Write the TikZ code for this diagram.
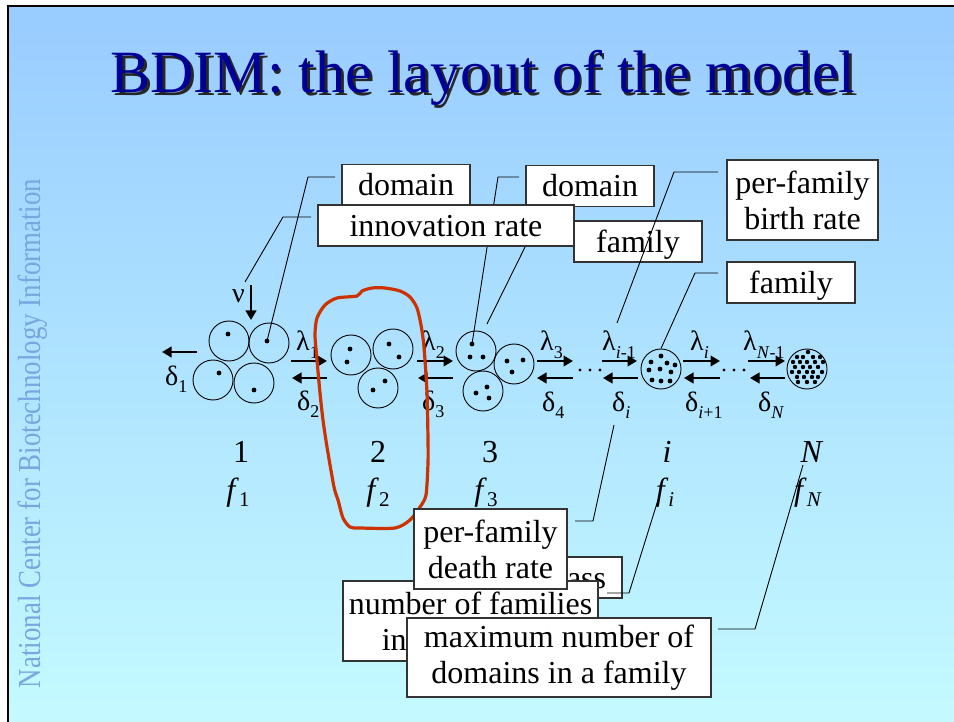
\documentclass[tikz,border=0pt]{standalone}
\usepackage{fontspec}
\setmainfont{Liberation Serif}
\newfontfamily\ncbifont[FakeStretch=0.84]{Liberation Serif}
\usetikzlibrary{arrows.meta}
\definecolor{slidetop}{RGB}{153,204,255}
\definecolor{slidebot}{RGB}{196,250,255}
\definecolor{titleblue}{RGB}{0,0,150}
\definecolor{loopred}{RGB}{204,51,0}
\definecolor{ncbiblue}{RGB}{120,166,222}
\newcommand{\fsz}[2]{\fontsize{#1}{#2}\selectfont}
\newcommand{\sbx}[1]{\raisebox{-0.27em}{\fsz{18}{18}#1}}
\newcommand{\fsbx}[1]{\raisebox{-0.2em}{\fsz{21}{21}#1}}
\tikzset{
  callout/.style={draw=black!80, line width=1.1pt, fill=white, align=center, inner sep=0pt, font=\fsz{32}{36}},
  one/.style={minimum height=41pt, text height=22pt, text depth=0pt},
  lead/.style={draw=black, line width=0.9pt},
  arr/.style={line width=2.8pt, -{Triangle[length=9.5pt,width=10.5pt]}},
  dom/.style={circle, draw=black, line width=0.9pt, minimum size=40pt, inner sep=0pt},
  dotm/.style={circle, fill=black, minimum size=4.8pt, inner sep=0pt},
  greek/.style={font=\fsz{28}{28}, anchor=base west, inner sep=0pt},
  idx/.style={font=\fsz{32}{32}, anchor=base, inner sep=0pt},
}
\newcommand{\arrw}[3]{\coordinate (#1a) at (#2); \coordinate (#1b) at (#3); \draw[arr] (#1a) -- (#1b);}
\begin{document}
\begin{tikzpicture}[x=1pt,y=-1pt]
\useasboundingbox (0,0) rectangle (954,722);
\fill[white] (0,0) rectangle (954,722);
\shade[top color=slidetop, bottom color=slidebot] (8,6) rectangle (954,722);
\draw[line width=2.5pt, black] (8,722) -- (8,6.2) -- (954,6.2);

% title
\node[anchor=base, font=\fsz{60}{60}, text=black!85, inner sep=0pt] (tshadow) at (485.5,95.5) {BDIM: the layout of the model};
\node[anchor=base, font=\fsz{60}{60}, text=titleblue, inner sep=0pt] (title) at (483,93) {BDIM: the layout of the model};

% side text
\node[rotate=90, anchor=base, text=ncbiblue, font=\ncbifont\fsz{32}{32}, inner sep=0pt] (ncbi) at (41,433.5) {National Center for Biotechnology Information};

% group 1
\node[dom] (cA) at (229,341) {};
\node[dom] (cB) at (269,343) {};
\node[dom] (cC) at (213,380) {};
\node[dom] (cD) at (254,383) {};
\node[dotm] (dB) at (267,341) {};
\foreach \x/\y in {228/334, 219/373, 254/390} \fill (\x,\y) circle (2.4pt);
% group 2
\node[dom] (cE) at (351,355) {};
\node[dom] (cF) at (393,349) {};
\node[dom] (cG) at (378,388) {};
\foreach \x/\y in {350/349, 347/362, 389/344, 399/357, 373/390, 385/381} \fill (\x,\y) circle (2.4pt);
% group 3
\node[dom] (cH) at (476,351) {};
\node[dom] (cI) at (514,364) {};
\node[dom] (cJ) at (483,391) {};
\node[dotm] (dH) at (472,344) {};
\foreach \x/\y in {470/357, 483/357, 507/361, 523/360, 512/372, 476/393, 487/387, 489/398} \fill (\x,\y) circle (2.4pt);
% group i
\node[dom] (cK) at (661,369) {};
\foreach \x/\y in {661/356, 651/362, 667/363, 675/365, 649/370, 660/369, 671/372, 652/380, 661/381, 670/381} \fill (\x,\y) circle (2.4pt);
% group N
\node[dom] (cL) at (807,369) {};
\foreach \x/\y in {808/352, 797/357, 803/357, 813/357, 820/357, 793/362, 800/362, 807/362, 815/362, 823/362, 795/367, 803/367, 810/367, 818/367, 792/372, 799/372, 807/372, 813/372, 822/372, 797/377, 804/377, 812/377, 818/377, 798/382, 807/382, 815/382} \fill (\x,\y) circle (2.2pt);

% arrows
\arrw{nu}{251,285}{251,320}
\arrw{dA}{197,352}{162,352}
\arrw{lA}{291,361}{327,361}
\arrw{dB}{327,378}{292,378}
\arrw{lB}{417,361}{453,361}
\arrw{dC}{453,378}{418,378}
\arrw{lC}{537,361}{573,361}
\arrw{dD}{573,378}{537,378}
\arrw{lD}{602,361}{637,361}
\arrw{dE}{638,378}{603,378}
\arrw{lE}{683,361}{720,361}
\arrw{dF}{720,378}{684,378}
\arrw{lF}{748,361}{785,361}
\arrw{dG}{785,378}{750,378}
\foreach \x in {580,590,600,724,734,744} \fill (\x,370) circle (1.6pt);

% greek labels
\node[greek] (nuL) at (232,303) {ν};
\node[greek] (d1L) at (165,385) {δ\sbx{1}};
\node[greek] (l1L) at (296,351) {λ\sbx{1}};
\node[greek] (d2L) at (297,410) {δ\sbx{2}};
\node[greek] (l2L) at (422,351) {λ\sbx{2}};
\node[greek] (d3L) at (422,410) {δ\sbx{3}};
\node[greek] (l3L) at (540,351) {λ\sbx{3}};
\node[greek] (d4L) at (542,411) {δ\sbx{4}};
\node[greek] (liL) at (602,351) {λ\sbx{\textit{i}-1}};
\node[greek] (diL) at (612,411) {δ\sbx{\textit{i}}};
\node[greek] (lI2L) at (690,351) {λ\sbx{\textit{i}}};
\node[greek] (dI2L) at (685,411) {δ\sbx{\textit{i}+1}};
\node[greek] (lNL) at (743,351) {λ\sbx{\textit{N}-1}};
\node[greek] (dNL) at (758,411) {δ\sbx{\textit{N}}};

% index rows
\node[idx] (n1) at (241,462) {1};
\node[idx] (n2) at (378,462) {2};
\node[idx] (n3) at (490,462) {3};
\node[idx] (ni) at (667,462) {\textit{i}};
\node[idx] (nN) at (812,462) {\textit{N}};
\node[idx] (f1) at (238,500) {\textit{f}\fsbx{1}};
\node[idx] (f2) at (378,500) {\textit{f}\fsbx{2}};
\node[idx] (f3) at (486,500) {\textit{f}\fsbx{3}};
\node[idx] (fi) at (665,500) {\textit{f}\fsbx{\textit{i}}};
\node[idx] (fN) at (808,500) {\textit{f}\fsbx{\textit{N}}};

% upper callouts
\coordinate (l1s) at (335,177); \coordinate (l1k) at (308,177);
\draw[lead] (l1s) -- (l1k) -- (dB.center);
\coordinate (l2s) at (311,217); \coordinate (l2k) at (283,217); \coordinate (l2e) at (245,282);
\draw[lead] (l2s) -- (l2k) -- (l2e);
\coordinate (l3s) at (519,177); \coordinate (l3k) at (498,177);
\draw[lead] (l3s) -- (l3k) -- (dH.center);
\coordinate (l4s) at (567,233); \coordinate (l4k) at (532,233); \coordinate (l4e) at (487,324);
\draw[lead] (l4s) -- (l4k) -- (l4e);
\node[callout, one, minimum width=128pt] (dom1) at (406,185) {domain};
\node[callout, one, minimum width=128pt] (dom2) at (590,186) {domain};
\node[callout, one, minimum width=128pt] (fam1) at (638,241.5) {family};
\node[callout, one, minimum width=256pt] (innov) at (446,225.5) {innovation rate};
\coordinate (l5s) at (718,172); \coordinate (l5k) at (674,172); \coordinate (l5e) at (617,323);
\draw[lead] (l5s) -- (l5k) -- (l5e);
\node[callout, minimum width=151pt, minimum height=80pt] (birth) at (802.5,200) {per-family\\birth rate};
\coordinate (l6s) at (718,273); \coordinate (l6k) at (695,273);
\draw[lead] (l6s) -- (l6k) -- (cK.north);
\node[callout, one, minimum width=128pt] (fam2) at (791,282.5) {family};

% red loop
\draw[loopred, line width=3.2pt, line join=round] plot[smooth cycle, tension=0.45] coordinates {
(317,318) (325,305) (337,298) (357,296) (362,291) (372,288) (385,288) (400,291) (410,297) (417,308) (421,325) (424,347) (427,393) (428,440) (428,463) (426,495) (420,507) (410,520) (395,528) (360,528) (350,527) (343,518) (338,500) (334,487) (327,447) (323,420) (320,393) (317,360) (315,335)};

% lower callouts
\node[callout, one, minimum width=94pt] (cls) at (575,577.5) {class};
\coordinate (l7s) at (607,593); \coordinate (l7k) at (629,593); \coordinate (l7e) at (658,500);
\draw[lead] (l7s) -- (l7k) -- (l7e);
\node[callout, minimum width=255pt, minimum height=80pt, align=left] (numfam) at (470.5,621) {number of families\\\hspace*{33pt}in};
\node[callout, minimum width=153pt, minimum height=80pt] (death) at (490.5,549) {per-family\\death rate};
\coordinate (l8s) at (575,521); \coordinate (l8k) at (593,521); \coordinate (l8e) at (614,425);
\draw[lead] (l8s) -- (l8k) -- (l8e);
\node[callout, minimum width=304pt, minimum height=79pt] (maxnum) at (559,657.5) {maximum number of\\domains in a family};
\coordinate (l9s) at (718,629); \coordinate (l9k) at (755,629); \coordinate (l9e) at (803,465);
\draw[lead] (l9s) -- (l9k) -- (l9e);
\end{tikzpicture}
\end{document}
